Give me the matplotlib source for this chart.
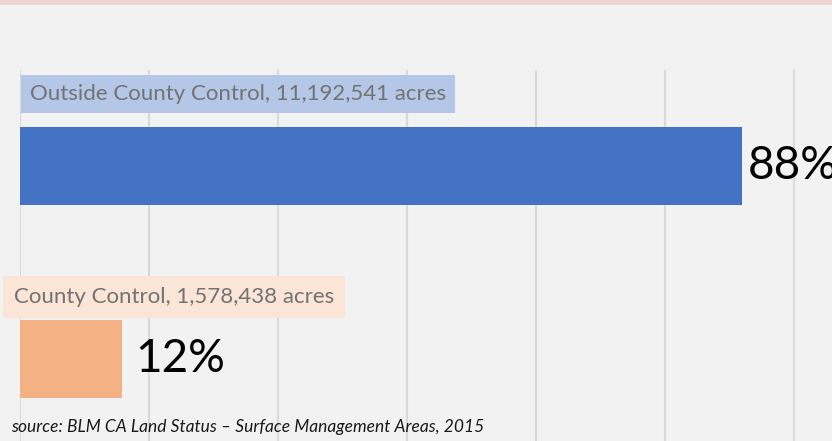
import numpy as np
import matplotlib.pyplot as plt
from matplotlib.ticker import MultipleLocator

# data
categories = ['Outside County Control', 'County Control']
acres = [11192541, 1578438]
shares = ['88%', '12%']
bar_colors = ['#4472c4', '#f4b183']
box_colors = ['#b4c7e7', '#fbe5d6']
source = 'source: BLM CA Land Status \u2013 Surface Management Areas, 2015'

plt.rcParams['font.family'] = ['Lato', 'DejaVu Sans']

fig = plt.figure(figsize=(8.32, 4.41), dpi=100)
fig.patch.set_facecolor('#f2f2f2')

# pink strip at the top
fig.add_artist(plt.Rectangle((0, 1 - 5 / 441), 1, 5 / 441,
                             transform=fig.transFigure, color='#ecd5d3', lw=0))

ax = fig.add_axes([20 / 832, 0, 812 / 832, 371 / 441])
ax.set_facecolor('#f2f2f2')
ypos = np.arange(len(categories))
ax.barh(ypos, acres, height=0.404, color=bar_colors, zorder=3)
ax.set_xlim(0, 812 * 2000000 / 129)
ax.set_ylim(1.425, -0.497)

ax.xaxis.set_major_locator(MultipleLocator(2000000))
ax.grid(axis='x', color='#d9d9d9', lw=1.5, zorder=0)
ax.set_xticklabels([])
ax.set_yticks([])
ax.tick_params(length=0)
for s in ax.spines.values():
    s.set_visible(False)

# category labels in coloured boxes
label_x = [30, 14]
label_up = [0.373, 0.322]
label_pad = [0.42, 0.5]
for i, (cat, a) in enumerate(zip(categories, acres)):
    txt = '{}, {:,} acres'.format(cat, a)
    ax.annotate(txt, xy=(0, ypos[i] - label_up[i]), xycoords=('axes fraction', 'data'),
                xytext=(label_x[i] - 20, 0), textcoords='offset pixels',
                ha='left', va='center', fontsize=16, color='#737373',
                bbox=dict(boxstyle='square,pad=%s' % label_pad[i], fc=box_colors[i], ec='none'),
                zorder=4, annotation_clip=False)

# percentages
pads = [6, 13]
for i, (a, s) in enumerate(zip(acres, shares)):
    ax.annotate(s, xy=(a, ypos[i]), xytext=(pads[i], 0), textcoords='offset pixels',
                ha='left', va='center', fontsize=33, color='black',
                zorder=4, annotation_clip=False)

fig.text(11 / 832, 1 - 427 / 441, source, fontsize=12.5, style='italic',
         color='#1a1a1a', ha='left', va='center')

fig.savefig('out.png', dpi=100, facecolor=fig.get_facecolor())
